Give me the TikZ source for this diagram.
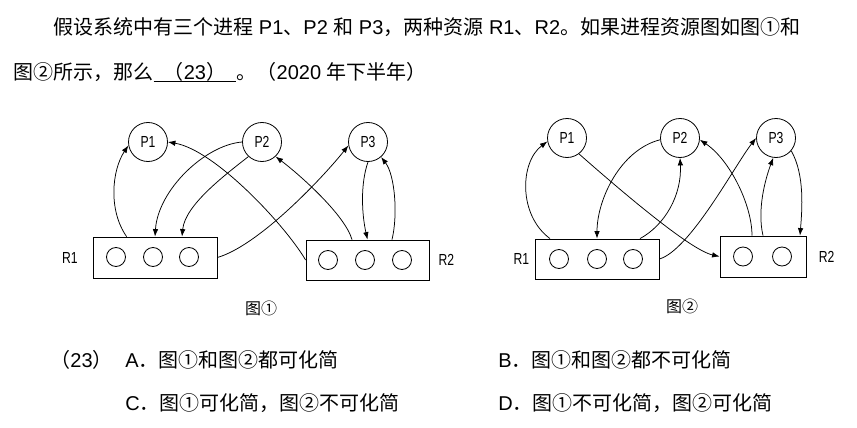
\documentclass[tikz,border=0pt]{standalone}
\usepackage{fontspec}
\setmainfont{Liberation Sans}
\newfontfamily\cjk{Noto Sans CJK SC}
\usetikzlibrary{arrows.meta, positioning, calc}
\newcommand{\narrow}[1]{\scalebox{0.76}[1]{#1}}

\begin{document}
\begin{tikzpicture}[x=1pt, y=-1pt, line width=0.8pt,
    proc/.style={draw, circle, minimum size=39pt, inner sep=0pt, font=\fontsize{16}{16}\selectfont},
    res/.style={draw, rectangle, minimum width=124pt, minimum height=41pt, inner sep=0pt},
    inst/.style={draw, circle, minimum size=19pt, inner sep=0pt},
    edge/.style={-{Latex[length=7.5pt,width=5.5pt]}, line width=0.75pt},
    lbl/.style={inner sep=0pt, font=\fontsize{16}{16}\selectfont},
    figcap/.style={inner sep=0pt, font=\fontsize{16}{16}\selectfont\cjk},
    txt/.style={anchor=base west, inner sep=0pt, font=\fontsize{20}{24}\selectfont}]
    \useasboundingbox (0,0) rectangle (857,428);

    % question text
    \node[txt] (l1) at (53,34.5) {{\cjk 假设系统中有三个进程} P1{\cjk 、}P2 {\cjk 和} P3{\cjk ，两种资源} R1{\cjk 、}R2{\cjk 。如果进程资源图如图①和}};
    \node[txt] (l2) at (12.7,79.5) {\cjk 图②所示，那么};
    \node[txt] (blank) at (l2.base east) {\makebox[82pt]{{\cjk （}23{\cjk ）}}};
    \draw[line width=0.9pt] ([yshift=-1.5pt]blank.base west) -- ([yshift=-1.5pt]blank.base east);
    \node[txt] (l2b) at (blank.base east) {{\cjk 。（}2020 {\cjk 年下半年）}};

    % figure 1
    \node[proc] (P1a) at (148,142) {\narrow{P1}};
    \node[proc] (P2a) at (262,142) {\narrow{P2}};
    \node[proc] (P3a) at (368,142) {\narrow{P3}};
    \node[res] (R1a) at (155,257.5) {};
    \node[res, minimum width=123pt, minimum height=40pt] (R2a) at (367.5,260) {};
    \foreach \x in {116,153,189} \node[inst] at (\x,257) {};
    \foreach \x in {328,365,402} \node[inst] at (\x,260) {};
    \node[lbl, left=14.6pt of R1a] {\narrow{R1}};
    \node[lbl, right=8.7pt of R2a] {\narrow{R2}};
    \node[figcap] at (261,308) {图①};

    \draw[edge] ([xshift=34pt]R1a.north west) .. controls (108,210) and (112,170) .. (P1a.190);
    \draw[edge] (P2a.180) .. controls (205,145) and (158,190) .. (R1a.north);
    \draw[edge] (P2a.227) .. controls (225,175) and (185,205) .. ([xshift=27pt]R1a.north);
    \draw[edge] (R1a.east) .. controls (260,245) and (325,175) .. (P3a.190);
    \draw[edge] (R2a.west) .. controls (285,225) and (215,150) .. (P1a.0);
    \draw[edge] ([xshift=-15.5pt]R2a.north) .. controls (345,215) and (300,175) .. (P2a.313);
    \draw[edge] (P3a.270) .. controls (360,185) and (362,215) .. (R2a.north);
    \draw[edge] ([xshift=24.5pt]R2a.north) .. controls (398,215) and (395,175) .. (P3a.311);

    % figure 2
    \node[proc] (P1b) at (567,138) {\narrow{P1}};
    \node[proc] (P2b) at (680,138) {\narrow{P2}};
    \node[proc] (P3b) at (776,138) {\narrow{P3}};
    \node[res, minimum height=40pt] (R1b) at (597,259) {};
    \node[res, minimum width=86pt] (R2b) at (763,256.5) {};
    \foreach \x in {559,597,633} \node[inst] at (\x,259) {};
    \foreach \x in {743,782} \node[inst] at (\x,256.5) {};
    \node[lbl, left=5pt of R1b] {\narrow{R1}};
    \node[lbl, right=12pt of R2b] {\narrow{R2}};
    \node[figcap] at (682,306.7) {图②};

    \draw[edge] ([xshift=-47pt]R1b.north) .. controls (518,215) and (520,162) .. (P1b.190);
    \draw[edge] (P2b.185) .. controls (620,150) and (597,200) .. (R1b.north);
    \draw[edge] ([xshift=43pt]R1b.north) .. controls (665,225) and (682,195) .. (P2b.270);
    \draw[edge] (R1b.east) .. controls (690,250) and (735,165) .. (P3b.180);
    \draw[edge] (P1b.307) .. controls (620,190) and (690,250) .. (R2b.west);
    \draw[edge] ([xshift=-11pt]R2b.north) .. controls (752,205) and (730,160) .. (P2b.355);
    \draw[edge] (R2b.north) .. controls (757,210) and (765,180) .. (P3b.262);
    \draw[edge] (P3b.320) .. controls (805,175) and (802,210) .. ([xshift=37pt]R2b.north);

    % options
    \node[txt] (q) at (50,367.6) {{\cjk （}23{\cjk ）}};
    \node[txt] (optA) at (125,367.6) {A{\cjk ．图①和图②都可化简}};
    \node[txt] (optB) at (498,367.6) {B{\cjk ．图①和图②都不可化简}};
    \node[txt] (optC) at (125,410.6) {C{\cjk ．图①可化简，图②不可化简}};
    \node[txt] (optD) at (498,410.6) {D{\cjk ．图①不可化简，图②可化简}};
\end{tikzpicture}
\end{document}
